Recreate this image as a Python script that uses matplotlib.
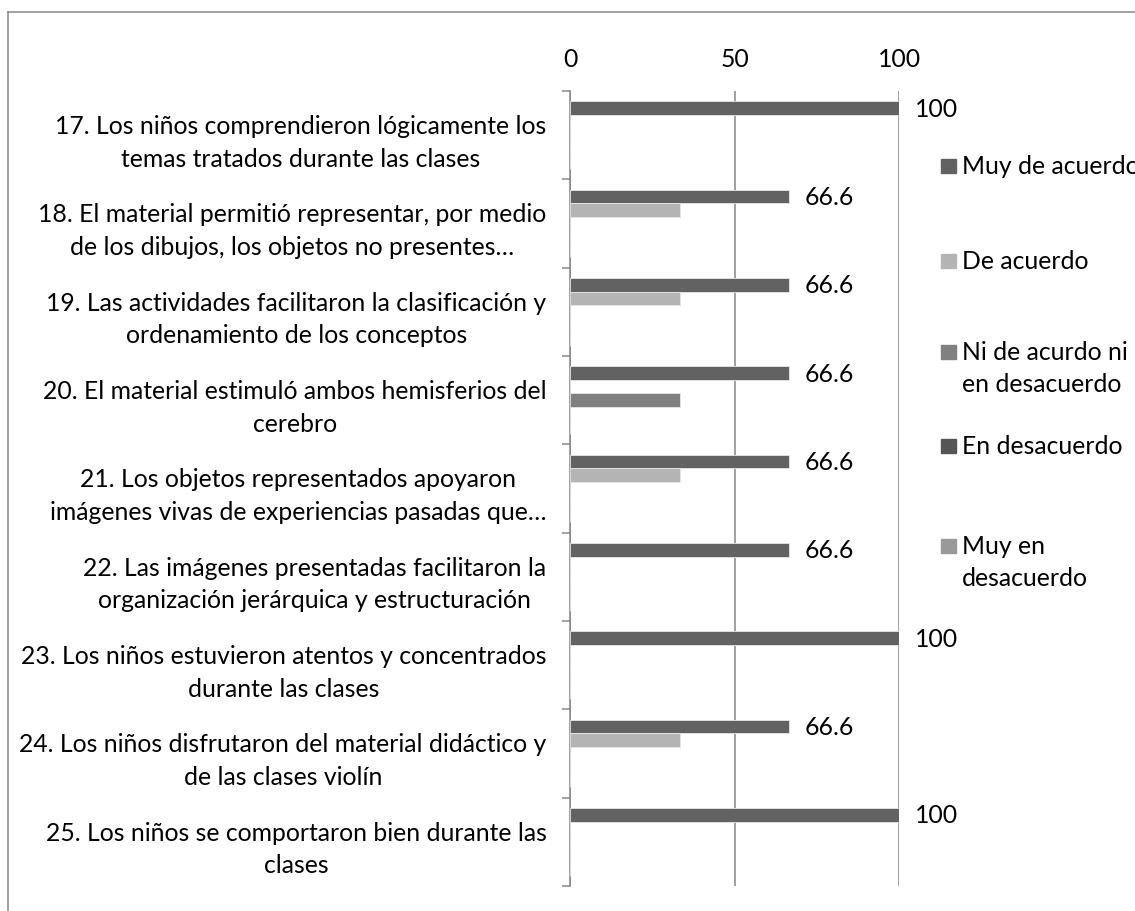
import numpy as np
import matplotlib.pyplot as plt
from matplotlib.patches import Rectangle
from matplotlib.lines import Line2D

plt.rcParams['font.family'] = ['Lato', 'DejaVu Sans']

# Data
categories = [
    "17. Los niños comprendieron lógicamente los\ntemas tratados durante las clases",
    "18. El material permitió representar, por medio\nde los dibujos, los objetos no presentes…",
    "19. Las actividades facilitaron la clasificación y\nordenamiento de los conceptos",
    "20. El material estimuló ambos hemisferios del\ncerebro",
    "21. Los objetos representados apoyaron\nimágenes vivas de experiencias pasadas que…",
    "22. Las imágenes presentadas facilitaron la\norganización jerárquica y estructuración",
    "23. Los niños estuvieron atentos y concentrados\ndurante las clases",
    "24. Los niños disfrutaron del material didáctico y\nde las clases violín",
    "25. Los niños se comportaron bien durante las\nclases",
]
series_names = ["Muy de acuerdo", "De acuerdo", "Ni de acurdo ni\nen desacuerdo",
                "En desacuerdo", "Muy en\ndesacuerdo"]
muy_de_acuerdo = [100, 66.6, 66.6, 66.6, 66.6, 66.6, 100, 66.6, 100]
de_acuerdo = [0, 33.3, 33.3, 0, 33.3, 0, 0, 33.3, 0]
ni_ni = [0, 0, 0, 33.3, 0, 0, 0, 0, 0]
en_desacuerdo = [0, 0, 0, 0, 0, 0, 0, 0, 0]
muy_en_desacuerdo = [0, 0, 0, 0, 0, 0, 0, 0, 0]
series = [muy_de_acuerdo, de_acuerdo, ni_ni, en_desacuerdo, muy_en_desacuerdo]
colors = ["#626262", "#b4b4b4", "#808080", "#555555", "#999999"]

W, H = 1135, 912
fig = plt.figure(figsize=(W / 100, H / 100), dpi=100)
ax = fig.add_axes([570 / W, 1 - 887 / H, 329 / W, 795 / H])

fs = 17.8
fs_cat = 17.8
lsp = 1.5
grid_c = "#868686"
y = np.arange(len(categories))
h = 0.1525
for i, (vals, c) in enumerate(zip(series, colors)):
    bars = ax.barh(y + (i - 2) * h, vals, height=h, color=c,
                   edgecolor="#e6e6e6", linewidth=0.6, zorder=3)
    if i == 0:
        for b, v in zip(bars, vals):
            ax.annotate(f"{v:g}", (b.get_width(), b.get_y() + b.get_height() / 2),
                        xytext=(11.5, 0), textcoords="offset points",
                        ha="left", va="center", fontsize=fs)

ax.set_xlim(0, 100)
ax.set_ylim(len(categories) - 0.5, -0.5)
ax.set_xticks([0, 50, 100])
ax.xaxis.tick_top()
ax.tick_params(axis="x", length=0, pad=15, labelsize=fs)
ax.set_yticks(np.arange(len(categories) + 1) - 0.5, minor=True)
ax.set_yticks(y)
ax.set_yticklabels(categories, fontsize=fs_cat, multialignment="center")
for t in ax.get_yticklabels():
    t.set_linespacing(lsp)
ax.tick_params(axis="y", which="major", length=0, pad=17)
ax.tick_params(axis="y", which="minor", length=6, width=1.1, color=grid_c)
ax.xaxis.grid(True, color=grid_c, linewidth=1.1, zorder=0)
for s in ["top", "right", "bottom"]:
    ax.spines[s].set_visible(False)
ax.spines["left"].set_color(grid_c)
ax.spines["left"].set_linewidth(1.1)

# Legend (manual placement, like the Excel legend); y = first-line centre in px
leg_y = [167, 262, 353, 447, 547]
for name, c, ly in zip(series_names, colors, leg_y):
    fig.patches.append(Rectangle((941 / W, 1 - (ly + 7) / H), 15 / W, 14 / H,
                                 transform=fig.transFigure, color=c))
    fig.text(962 / W, 1 - (ly - 12) / H, name, fontsize=fs_cat, va="top", ha="left",
             linespacing=lsp)

# Chart border
fig.add_artist(Line2D([8 / W, 8 / W], [0, 1 - 13 / H], transform=fig.transFigure,
                      color=grid_c, linewidth=1.1))
fig.add_artist(Line2D([8 / W, 1], [1 - 13 / H, 1 - 13 / H], transform=fig.transFigure,
                      color=grid_c, linewidth=1.1))

fig.savefig("out.png", dpi=100)
